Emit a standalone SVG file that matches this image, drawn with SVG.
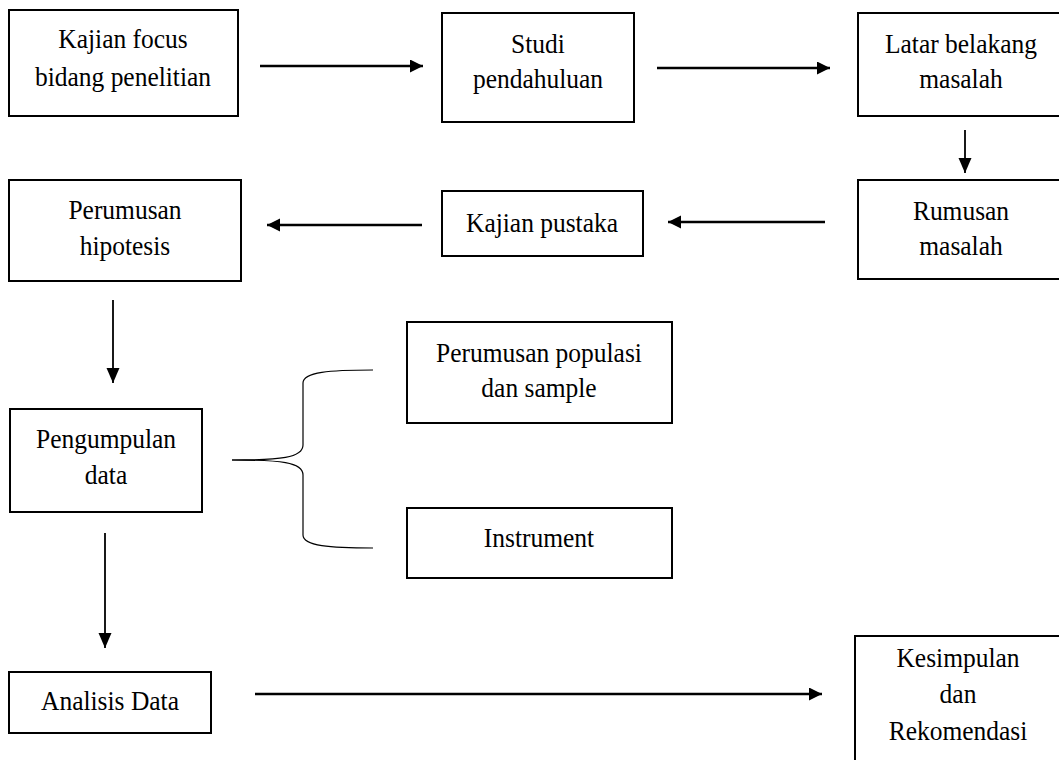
<svg xmlns="http://www.w3.org/2000/svg" width="1059" height="760" viewBox="0 0 1059 760">
<style>
  .box { fill: #ffffff; stroke: #000000; stroke-width: 2; }
  .lbl { font-family: "Liberation Serif", "Times New Roman", serif; font-size: 28px; fill: #000000; text-anchor: middle; }
  .harrow { stroke: #000000; stroke-width: 2.6; fill: none; marker-end: url(#ah); }
  .varrow { stroke: #000000; stroke-width: 1.8; fill: none; marker-end: url(#av); }
  .brace { stroke: #000000; stroke-width: 1.2; fill: none; }
</style>
<defs>
  <marker id="ah" markerUnits="userSpaceOnUse" markerWidth="14" markerHeight="14" refX="13" refY="6.5" orient="auto">
    <path d="M0,0 L13,6.5 L0,13 z" fill="#000000"/>
  </marker>
  <marker id="av" markerUnits="userSpaceOnUse" markerWidth="16" markerHeight="16" refX="15" refY="6.5" orient="auto">
    <path d="M0,0 L15,6.5 L0,13 z" fill="#000000"/>
  </marker>
</defs>
<rect width="1059" height="760" fill="#ffffff"/>

<g id="connectors">
  <line class="harrow" x1="260" y1="66" x2="423" y2="66"/>
  <line class="harrow" x1="657" y1="68" x2="830" y2="68"/>
  <line class="varrow" x1="965" y1="130" x2="965" y2="173"/>
  <line class="harrow" x1="825" y1="222" x2="668" y2="222"/>
  <line class="harrow" x1="422" y1="225" x2="267" y2="225"/>
  <line class="varrow" x1="113" y1="300" x2="113" y2="383"/>
  <line class="varrow" x1="105" y1="533" x2="105" y2="648"/>
  <line class="harrow" x1="255" y1="694" x2="822" y2="694"/>
  <path class="brace" d="M232,460 C280,460 303,458 303,445 L303,383 C303,372 330,370 373,370"/>
  <path class="brace" d="M232,460 C280,460 303,462 303,475 L303,535 C303,546 330,548 373,548"/>
</g>

<g id="kajian-focus">
  <rect class="box" x="9" y="10" width="229" height="106"/>
  <text class="lbl" transform="translate(123 48) scale(0.91 1)">Kajian focus</text>
  <text class="lbl" transform="translate(123 86) scale(0.91 1)">bidang penelitian</text>
</g>

<g id="studi-pendahuluan">
  <rect class="box" x="442" y="13" width="192" height="109"/>
  <text class="lbl" transform="translate(538 53) scale(0.91 1)">Studi</text>
  <text class="lbl" transform="translate(538 88) scale(0.91 1)">pendahuluan</text>
</g>

<g id="latar-belakang">
  <rect class="box" x="858" y="13" width="210" height="103"/>
  <text class="lbl" transform="translate(961 53) scale(0.91 1)">Latar belakang</text>
  <text class="lbl" transform="translate(961 88) scale(0.91 1)">masalah</text>
</g>

<g id="rumusan-masalah">
  <rect class="box" x="858" y="180" width="210" height="99"/>
  <text class="lbl" transform="translate(961 220) scale(0.91 1)">Rumusan</text>
  <text class="lbl" transform="translate(961 255) scale(0.91 1)">masalah</text>
</g>

<g id="kajian-pustaka">
  <rect class="box" x="442" y="191" width="201" height="65"/>
  <text class="lbl" transform="translate(542 232) scale(0.91 1)">Kajian pustaka</text>
</g>

<g id="perumusan-hipotesis">
  <rect class="box" x="9" y="180" width="232" height="101"/>
  <text class="lbl" transform="translate(125 219) scale(0.91 1)">Perumusan</text>
  <text class="lbl" transform="translate(125 255) scale(0.91 1)">hipotesis</text>
</g>

<g id="pengumpulan-data">
  <rect class="box" x="10" y="409" width="192" height="103"/>
  <text class="lbl" transform="translate(106 448) scale(0.91 1)">Pengumpulan</text>
  <text class="lbl" transform="translate(106 484) scale(0.91 1)">data</text>
</g>

<g id="perumusan-populasi">
  <rect class="box" x="407" y="322" width="265" height="101"/>
  <text class="lbl" transform="translate(539 362) scale(0.91 1)">Perumusan populasi</text>
  <text class="lbl" transform="translate(539 397) scale(0.91 1)">dan sample</text>
</g>

<g id="instrument">
  <rect class="box" x="407" y="508" width="265" height="70"/>
  <text class="lbl" transform="translate(539 547) scale(0.91 1)">Instrument</text>
</g>

<g id="analisis-data">
  <rect class="box" x="9" y="672" width="202" height="61"/>
  <text class="lbl" transform="translate(110 710) scale(0.91 1)">Analisis Data</text>
</g>

<g id="kesimpulan">
  <rect class="box" x="855" y="636" width="220" height="136"/>
  <text class="lbl" transform="translate(958 667) scale(0.91 1)">Kesimpulan</text>
  <text class="lbl" transform="translate(958 703) scale(0.91 1)">dan</text>
  <text class="lbl" transform="translate(958 740) scale(0.91 1)">Rekomendasi</text>
</g>
</svg>
